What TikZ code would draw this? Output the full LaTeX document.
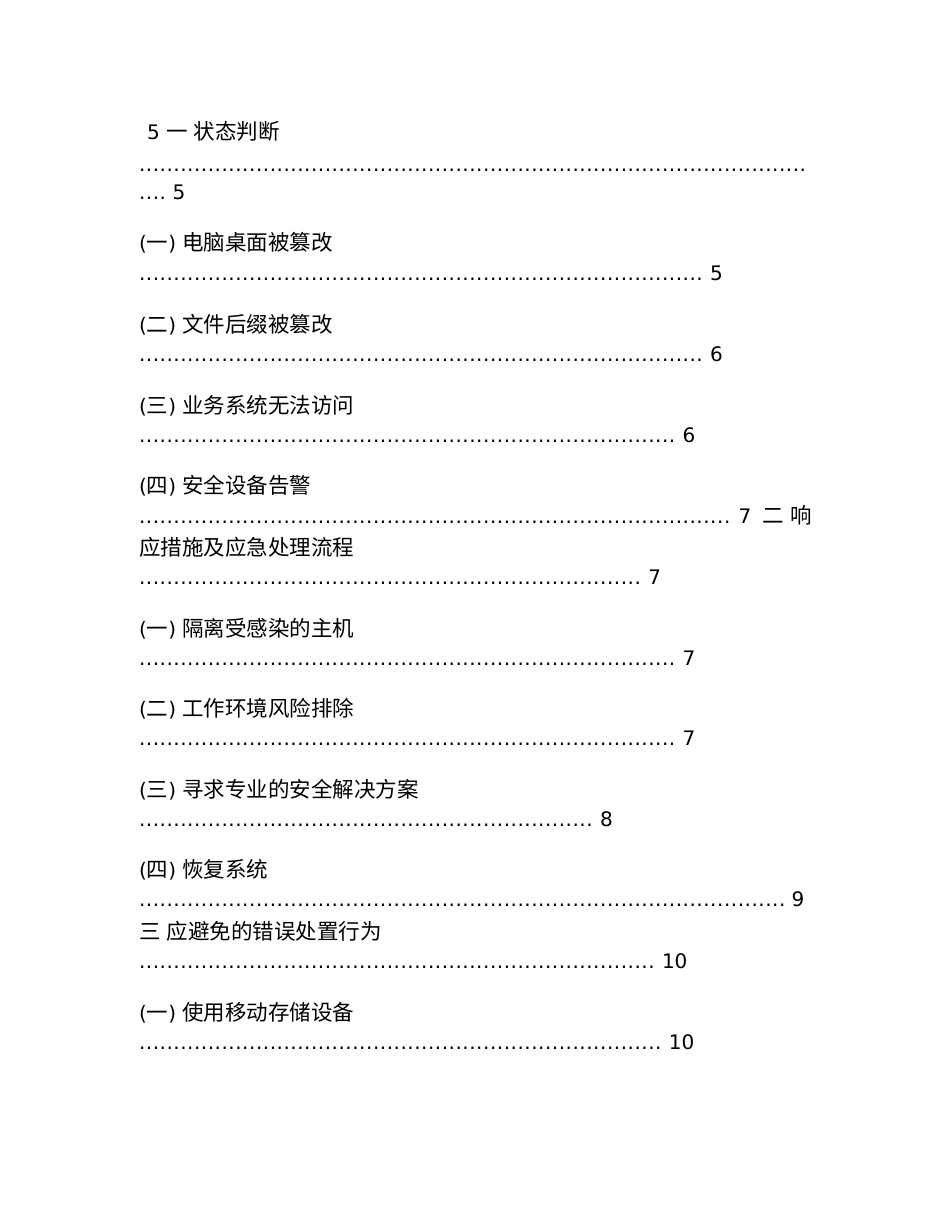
\documentclass[tikz,border=0pt]{standalone}
\usepackage{fontspec}
\setmainfont{DejaVu Sans}
\newfontfamily\cjk{Noto Sans CJK SC}
\usepackage{tikz}
\usetikzlibrary{positioning}
\newcommand{\zh}[1]{{\cjk\fontsize{21.5pt}{25pt}\selectfont #1}}
\newcommand{\dotrow}[1]{\foreach \k in {1,...,#1}{\makebox[6.88pt][l]{.}}}

\begin{document}
\begin{tikzpicture}[x=1pt, y=-1pt, font=\fontsize{20pt}{24pt}\selectfont,
  every node/.style={inner sep=0pt, outer sep=0pt, anchor=base west},
  pg/.style={anchor=base west}]
\useasboundingbox (0,0) rectangle (950,1230);
\node (h1) at (147,140) {5 \zh{一} \zh{状态判断}};
\node (d1) at (139,172) {\dotrow{97}};
\node (d2) at (139,200) {\dotrow{4}};
\node (p2) [right=6pt of d2.base east, pg] {5};
\node (h2) at (139,251) {(\zh{一}) \zh{电脑桌面被篡改}};
\node (d3) at (139,280) {\dotrow{82}};
\node (p3) [right=7pt of d3.base east, pg] {5};
\node (h3) at (139,332) {(\zh{二}) \zh{文件后缀被篡改}};
\node (d4) at (139,361) {\dotrow{82}};
\node (p4) [right=7pt of d4.base east, pg] {6};
\node (h4) at (139,413) {(\zh{三}) \zh{业务系统无法访问}};
\node (d5) at (139,442) {\dotrow{78}};
\node (p5) [right=7pt of d5.base east, pg] {6};
\node (h5) at (139,493) {(\zh{四}) \zh{安全设备告警}};
\node (d6) at (139,523) {\dotrow{86}};
\node (p6) [right=8pt of d6.base east, pg] {7\hspace{11pt}\zh{二} \zh{响}};
\node (h6) at (139,555) {\zh{应措施及应急处理流程}};
\node (d7) at (139,584) {\dotrow{73}};
\node (p7) [right=7pt of d7.base east, pg] {7};
\node (h7) at (139,636) {(\zh{一}) \zh{隔离受感染的主机}};
\node (d8) at (139,665) {\dotrow{78}};
\node (p8) [right=7pt of d8.base east, pg] {7};
\node (h8) at (139,716) {(\zh{二}) \zh{工作环境风险排除}};
\node (d9) at (139,745) {\dotrow{78}};
\node (p9) [right=7pt of d9.base east, pg] {7};
\node (h9) at (139,797) {(\zh{三}) \zh{寻求专业的安全解决方案}};
\node (d10) at (139,826) {\dotrow{66}};
\node (p10) [right=7pt of d10.base east, pg] {8};
\node (h10) at (139,877) {(\zh{四}) \zh{恢复系统}};
\node (d11) at (139,906) {\dotrow{94}};
\node (p11) [right=6pt of d11.base east, pg] {9};
\node (h11) at (139,939) {\zh{三} \zh{应避免的错误处置行为}};
\node (d12) at (139,968) {\dotrow{75}};
\node (p12) [right=7pt of d12.base east, pg] {10};
\node (h12) at (139,1020) {(\zh{一}) \zh{使用移动存储设备}};
\node (d13) at (139,1049) {\dotrow{76}};
\node (p13) [right=7pt of d13.base east, pg] {10};
\end{tikzpicture}
\end{document}
